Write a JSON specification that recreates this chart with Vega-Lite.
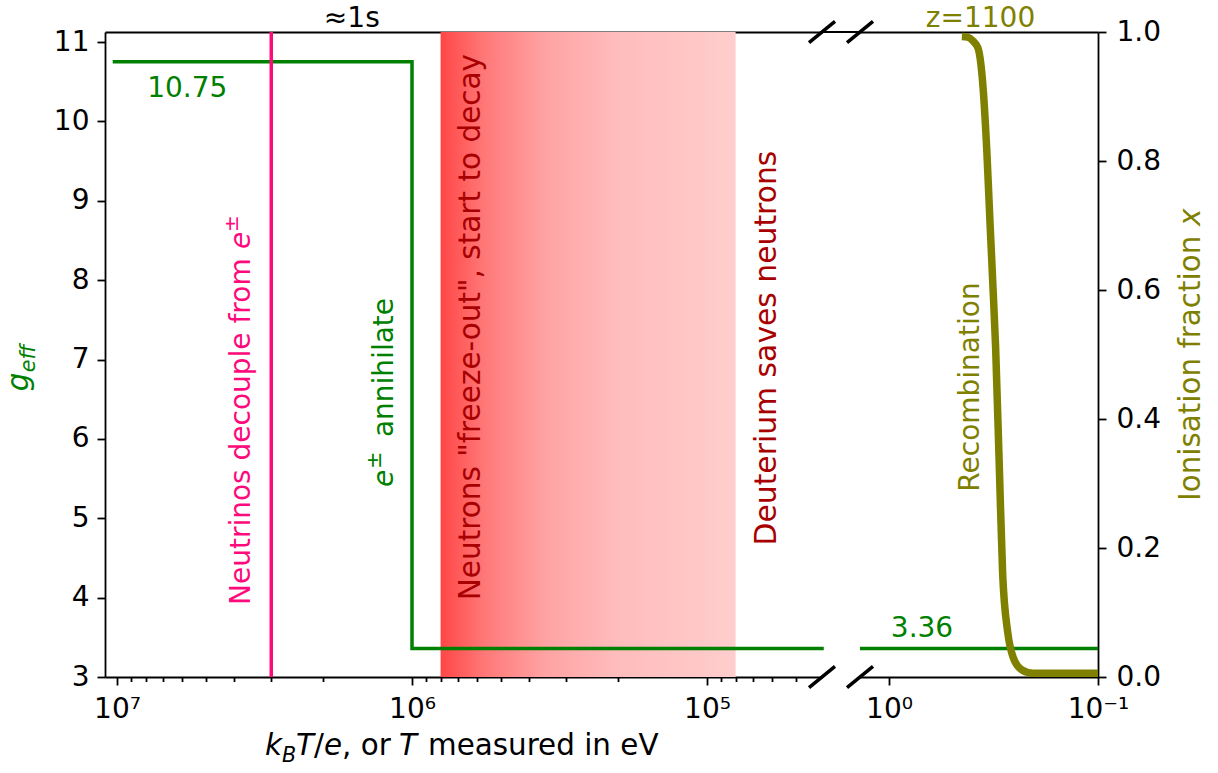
{
  "$schema": "https://vega.github.io/schema/vega-lite/v6.json",
  "background": "white",
  "padding": {"left": 4, "top": 4, "right": 5, "bottom": 5},
  "bounds": "flush",
  "spacing": 38,
  "config": {
    "view": {"stroke": null},
    "font": "DejaVu Sans",
    "axis": {
      "domainColor": "black", "domainWidth": 1.8, "tickColor": "black", "tickWidth": 1.8,
      "grid": false, "labelFont": "DejaVu Sans", "labelFontSize": 28, "labelColor": "black",
      "title": null, "labelFlush": false, "labelOverlap": false
    }
  },
  "datasets": {
    "ion": [
      {"T": 0.448, "x": 0.993}, {"T": 0.42, "x": 0.992}, {"T": 0.396, "x": 0.986},
      {"T": 0.375, "x": 0.975}, {"T": 0.355, "x": 0.915}, {"T": 0.340, "x": 0.812},
      {"T": 0.329, "x": 0.708}, {"T": 0.318, "x": 0.604}, {"T": 0.309, "x": 0.512},
      {"T": 0.296, "x": 0.316}, {"T": 0.286, "x": 0.161}, {"T": 0.270, "x": 0.068},
      {"T": 0.255, "x": 0.031}, {"T": 0.231, "x": 0.011}, {"T": 0.205, "x": 0.006},
      {"T": 0.1, "x": 0.006}
    ]
  },
  "hconcat": [
    {
      "width": 717, "height": 645,
      "resolve": {"axis": {"x": "independent", "y": "independent"}},
      "layer": [
        {
          "data": {"values": [{"T0": 800000, "T1": 80000}]},
          "mark": {"type": "rect", "color": {"gradient": "linear", "x1": 0, "x2": 1, "y1": 0, "y2": 0, "stops": [
            {"offset": 0, "color": "#ff4646"}, {"offset": 0.15, "color": "#ff7878"},
            {"offset": 0.35, "color": "#ffa2a2"}, {"offset": 0.6, "color": "#ffbcbc"},
            {"offset": 1, "color": "#ffcdcd"}]}},
          "encoding": {
            "x": {"field": "T0", "type": "quantitative",
                  "scale": {"type": "log", "domain": [40760, 10982000], "reverse": true, "nice": false},
                  "axis": {"orient": "top", "ticks": false, "labels": false, "domain": true}},
            "x2": {"field": "T1"}
          }
        },
        {
          "data": {"values": [
            {"T": 10200000, "g": 10.75, "i": 0}, {"T": 1000000, "g": 10.75, "i": 1},
            {"T": 1000000, "g": 3.36, "i": 2}, {"T": 40760, "g": 3.36, "i": 3}]},
          "mark": {"type": "line", "color": "#008000", "strokeWidth": 3.5, "strokeCap": "square"},
          "encoding": {
            "x": {"field": "T", "type": "quantitative",
                  "scale": {"type": "log", "domain": [40760, 10982000], "reverse": true, "nice": false},
                  "axis": {"orient": "bottom", "values": [10000000, 1000000, 100000], "tickSize": 8, "labelPadding": 10,
                           "labelExpr": "datum.value > 5000000 ? '10⁷' : datum.value > 500000 ? '10⁶' : '10⁵'"}},
            "y": {"field": "g", "type": "quantitative",
                  "scale": {"domain": [3, 11.126], "nice": false, "zero": false},
                  "axis": {"orient": "left", "values": [3, 4, 5, 6, 7, 8, 9, 10, 11], "tickSize": 8, "labelPadding": 8}},
            "order": {"field": "i"}
          }
        },
        {
          "data": {"values": [{"T": 3000000}]},
          "mark": {"type": "rule", "color": "#ff0a7c", "strokeWidth": 3.5},
          "encoding": {
            "x": {"field": "T", "type": "quantitative",
                  "axis": {"orient": "bottom", "values": [9000000, 8000000, 7000000, 6000000, 5000000, 4000000, 3000000, 2000000, 900000, 800000, 700000, 600000, 500000, 400000, 300000, 200000, 90000, 80000, 70000, 60000, 50000],
                           "labels": false, "domain": false, "tickSize": 4.5}}
          }
        },
        {
          "data": {"values": [{}]},
          "mark": {"type": "rule", "color": "black", "strokeWidth": 1.8},
          "encoding": {
            "x": {"datum": 40760, "type": "quantitative", "axis": null},
            "x2": {"datum": 30300},
            "y": {"datum": 11.126, "type": "quantitative", "axis": null}
          }
        },
        {
          "data": {"values": [{}]},
          "mark": {"type": "point", "shape": "M-1,0.82L1,-0.82", "size": 676, "filled": false, "stroke": "black", "strokeWidth": 3.5, "opacity": 1},
          "encoding": {"x": {"datum": 40760, "type": "quantitative", "axis": null}, "y": {"datum": 3, "type": "quantitative", "axis": null}}
        },
        {
          "data": {"values": [{}]},
          "mark": {"type": "point", "shape": "M-1,0.82L1,-0.82", "size": 676, "filled": false, "stroke": "black", "strokeWidth": 3.5, "opacity": 1},
          "encoding": {"x": {"datum": 40760, "type": "quantitative", "axis": null}, "y": {"datum": 11.126, "type": "quantitative", "axis": null}}
        },
        {
          "data": {"values": [{}]},
          "mark": {"type": "text", "text": "≈1s", "fontSize": 28, "color": "black", "align": "center", "baseline": "alphabetic"},
          "encoding": {"x": {"datum": 1600000, "type": "quantitative", "axis": null}, "y": {"datum": 11.186, "type": "quantitative", "axis": null}}
        },
        {
          "data": {"values": [{}]},
          "mark": {"type": "text", "text": "10.75", "fontSize": 28, "color": "#008000", "align": "left", "baseline": "alphabetic"},
          "encoding": {"x": {"datum": 7900000, "type": "quantitative", "axis": null}, "y": {"datum": 10.305, "type": "quantitative", "axis": null}}
        },
        {
          "data": {"values": [{}]},
          "mark": {"type": "text", "text": "Neutrinos decouple from", "fontSize": 28, "color": "#ff0a7c", "align": "left", "baseline": "alphabetic", "angle": 270},
          "encoding": {"x": {"datum": 3542000, "type": "quantitative", "axis": null}, "y": {"datum": 3.907, "type": "quantitative", "axis": null}}
        },
        {
          "data": {"values": [{}]},
          "mark": {"type": "text", "text": "e", "fontSize": 28, "fontStyle": "italic", "color": "#ff0a7c", "align": "left", "baseline": "alphabetic", "angle": 270, "dx": 356},
          "encoding": {"x": {"datum": 3542000, "type": "quantitative", "axis": null}, "y": {"datum": 3.907, "type": "quantitative", "axis": null}}
        },
        {
          "data": {"values": [{}]},
          "mark": {"type": "text", "text": "±", "fontSize": 20, "color": "#ff0a7c", "align": "left", "baseline": "alphabetic", "angle": 270, "dx": 373, "dy": -12},
          "encoding": {"x": {"datum": 3542000, "type": "quantitative", "axis": null}, "y": {"datum": 3.907, "type": "quantitative", "axis": null}}
        },
        {
          "data": {"values": [{}]},
          "mark": {"type": "text", "text": "e", "fontSize": 28, "fontStyle": "italic", "color": "#008000", "align": "left", "baseline": "alphabetic", "angle": 270},
          "encoding": {"x": {"datum": 1160000, "type": "quantitative", "axis": null}, "y": {"datum": 5.393, "type": "quantitative", "axis": null}}
        },
        {
          "data": {"values": [{}]},
          "mark": {"type": "text", "text": "±", "fontSize": 21, "color": "#008000", "align": "left", "baseline": "alphabetic", "angle": 270, "dx": 18, "dy": -12},
          "encoding": {"x": {"datum": 1160000, "type": "quantitative", "axis": null}, "y": {"datum": 5.393, "type": "quantitative", "axis": null}}
        },
        {
          "data": {"values": [{}]},
          "mark": {"type": "text", "text": "annihilate", "fontSize": 28, "color": "#008000", "align": "left", "baseline": "alphabetic", "angle": 270, "dx": 50},
          "encoding": {"x": {"datum": 1160000, "type": "quantitative", "axis": null}, "y": {"datum": 5.393, "type": "quantitative", "axis": null}}
        },
        {
          "data": {"values": [{}]},
          "mark": {"type": "text", "text": "Neutrons \"freeze-out\", start to decay", "fontSize": 29.5, "color": "#a80000", "align": "center", "baseline": "alphabetic", "angle": 270},
          "encoding": {"x": {"datum": 588400, "type": "quantitative", "axis": null}, "y": {"datum": 7.408, "type": "quantitative", "axis": null}}
        },
        {
          "data": {"values": [{}]},
          "mark": {"type": "text", "text": "Deuterium saves neutrons", "fontSize": 29.8, "color": "#a80000", "align": "center", "baseline": "alphabetic", "angle": 270},
          "encoding": {"x": {"datum": 58360, "type": "quantitative", "axis": null}, "y": {"datum": 7.144, "type": "quantitative", "axis": null}}
        },
        {
          "data": {"values": [{}]},
          "mark": {"type": "text", "text": "g", "fontSize": 29.4, "fontStyle": "italic", "color": "#008000", "align": "left", "baseline": "alphabetic", "angle": 270},
          "encoding": {"x": {"datum": 20030000, "type": "quantitative", "axis": null}, "y": {"datum": 6.6, "type": "quantitative", "axis": null}}
        },
        {
          "data": {"values": [{}]},
          "mark": {"type": "text", "text": "eff", "fontSize": 20.6, "fontStyle": "italic", "color": "#008000", "align": "left", "baseline": "alphabetic", "angle": 270, "dx": 19, "dy": 7},
          "encoding": {"x": {"datum": 20030000, "type": "quantitative", "axis": null}, "y": {"datum": 6.6, "type": "quantitative", "axis": null}}
        },
        {
          "data": {"values": [{}]},
          "mark": {"type": "text", "text": "k", "fontSize": 29.4, "fontStyle": "italic", "color": "black", "align": "left", "baseline": "alphabetic"},
          "encoding": {"x": {"datum": 3150000, "type": "quantitative", "axis": null}, "y": {"datum": 2.018, "type": "quantitative", "axis": null}}
        },
        {
          "data": {"values": [{}]},
          "mark": {"type": "text", "text": "B", "fontSize": 20.6, "fontStyle": "italic", "color": "black", "align": "left", "baseline": "alphabetic", "dx": 17, "dy": 7},
          "encoding": {"x": {"datum": 3150000, "type": "quantitative", "axis": null}, "y": {"datum": 2.018, "type": "quantitative", "axis": null}}
        },
        {
          "data": {"values": [{}]},
          "mark": {"type": "text", "text": "T", "fontSize": 29.4, "fontStyle": "italic", "color": "black", "align": "left", "baseline": "alphabetic", "dx": 31},
          "encoding": {"x": {"datum": 3150000, "type": "quantitative", "axis": null}, "y": {"datum": 2.018, "type": "quantitative", "axis": null}}
        },
        {
          "data": {"values": [{}]},
          "mark": {"type": "text", "text": "/", "fontSize": 29.4, "color": "black", "align": "left", "baseline": "alphabetic", "dx": 49},
          "encoding": {"x": {"datum": 3150000, "type": "quantitative", "axis": null}, "y": {"datum": 2.018, "type": "quantitative", "axis": null}}
        },
        {
          "data": {"values": [{}]},
          "mark": {"type": "text", "text": "e", "fontSize": 29.4, "fontStyle": "italic", "color": "black", "align": "left", "baseline": "alphabetic", "dx": 59},
          "encoding": {"x": {"datum": 3150000, "type": "quantitative", "axis": null}, "y": {"datum": 2.018, "type": "quantitative", "axis": null}}
        },
        {
          "data": {"values": [{}]},
          "mark": {"type": "text", "text": ", or", "fontSize": 29.4, "color": "black", "align": "left", "baseline": "alphabetic", "dx": 77},
          "encoding": {"x": {"datum": 3150000, "type": "quantitative", "axis": null}, "y": {"datum": 2.018, "type": "quantitative", "axis": null}}
        },
        {
          "data": {"values": [{}]},
          "mark": {"type": "text", "text": "T", "fontSize": 29.4, "fontStyle": "italic", "color": "black", "align": "left", "baseline": "alphabetic", "dx": 134},
          "encoding": {"x": {"datum": 3150000, "type": "quantitative", "axis": null}, "y": {"datum": 2.018, "type": "quantitative", "axis": null}}
        },
        {
          "data": {"values": [{}]},
          "mark": {"type": "text", "text": "measured in eV", "fontSize": 29.4, "color": "black", "align": "left", "baseline": "alphabetic", "dx": 163},
          "encoding": {"x": {"datum": 3150000, "type": "quantitative", "axis": null}, "y": {"datum": 2.018, "type": "quantitative", "axis": null}}
        }
      ]
    },
    {
      "width": 238, "height": 645,
      "resolve": {"scale": {"y": "independent"}, "axis": {"x": "independent", "y": "independent"}},
      "layer": [
        {
          "layer": [
            {
              "data": {"values": [{"T": 1.3765, "g": 3.36}, {"T": 0.1, "g": 3.36}]},
              "mark": {"type": "line", "color": "#008000", "strokeWidth": 3.5},
              "encoding": {
                "x": {"field": "T", "type": "quantitative",
                      "scale": {"type": "log", "domain": [0.1, 1.3765], "reverse": true, "nice": false},
                      "axis": {"orient": "bottom", "values": [0.9, 0.8, 0.7, 0.6, 0.5, 0.4, 0.3, 0.2], "labels": false, "domain": false, "tickSize": 4.5}},
                "y": {"field": "g", "type": "quantitative", "scale": {"domain": [3, 11.126], "nice": false, "zero": false}, "axis": null}
              }
            },
            {
              "data": {"values": [{}]},
              "mark": {"type": "text", "text": "3.36", "fontSize": 28, "color": "#008000", "align": "left", "baseline": "alphabetic"},
              "encoding": {"x": {"datum": 0.98, "type": "quantitative", "axis": null}, "y": {"datum": 3.504, "type": "quantitative", "axis": null}}
            }
          ]
        },
        {
          "resolve": {"axis": {"x": "independent", "y": "independent"}},
          "layer": [
            {
              "data": {"name": "ion"},
              "mark": {"type": "line", "color": "#808000", "opacity": 0},
              "encoding": {
                "x": {"field": "T", "type": "quantitative",
                      "scale": {"type": "log", "domain": [0.1, 1.3765], "reverse": true, "nice": false},
                      "axis": {"orient": "top", "ticks": false, "labels": false, "domain": true}},
                "y": {"field": "x", "type": "quantitative", "scale": {"domain": [0, 1], "nice": false}, "axis": null}
              }
            },
            {
              "data": {"name": "ion"},
              "mark": {"type": "line", "color": "#808000", "strokeWidth": 7.5, "interpolate": "monotone", "strokeCap": "butt"},
              "encoding": {
                "x": {"field": "T", "type": "quantitative",
                      "scale": {"type": "log", "domain": [0.1, 1.3765], "reverse": true, "nice": false},
                      "axis": {"orient": "bottom", "values": [1, 0.1], "tickSize": 8, "labelPadding": 10,
                               "labelExpr": "datum.value > 0.5 ? '10⁰' : '10⁻¹'"}},
                "y": {"field": "x", "type": "quantitative", "scale": {"domain": [0, 1], "nice": false},
                      "axis": {"orient": "right", "values": [0, 0.2, 0.4, 0.6, 0.8, 1], "format": ".1f", "tickSize": 8, "labelPadding": 10}},
                "order": {"field": "T", "sort": "descending"}
              }
            },
            {
              "data": {"values": [{}]},
              "mark": {"type": "point", "shape": "M-1,0.82L1,-0.82", "size": 676, "filled": false, "stroke": "black", "strokeWidth": 3.5, "opacity": 1},
              "encoding": {"x": {"datum": 1.3765, "type": "quantitative", "axis": null}, "y": {"datum": 0, "type": "quantitative", "axis": null}}
            },
            {
              "data": {"values": [{}]},
              "mark": {"type": "point", "shape": "M-1,0.82L1,-0.82", "size": 676, "filled": false, "stroke": "black", "strokeWidth": 3.5, "opacity": 1},
              "encoding": {"x": {"datum": 1.3765, "type": "quantitative", "axis": null}, "y": {"datum": 1, "type": "quantitative", "axis": null}}
            },
            {
              "data": {"values": [{}]},
              "mark": {"type": "text", "text": "z=1100", "fontSize": 28, "color": "#808000", "align": "center", "baseline": "alphabetic"},
              "encoding": {"x": {"datum": 0.365, "type": "quantitative", "axis": null}, "y": {"datum": 1.0078, "type": "quantitative", "axis": null}}
            },
            {
              "data": {"values": [{}]},
              "mark": {"type": "text", "text": "Recombination", "fontSize": 28, "color": "#808000", "align": "center", "baseline": "alphabetic", "angle": 270},
              "encoding": {"x": {"datum": 0.371, "type": "quantitative", "axis": null}, "y": {"datum": 0.4496, "type": "quantitative", "axis": null}}
            },
            {
              "data": {"values": [{}]},
              "mark": {"type": "text", "text": "Ionisation fraction", "fontSize": 29.4, "color": "#808000", "align": "left", "baseline": "alphabetic", "angle": 270},
              "encoding": {"x": {"datum": 0.0325, "type": "quantitative", "axis": null}, "y": {"datum": 0.2729, "type": "quantitative", "axis": null}}
            },
            {
              "data": {"values": [{}]},
              "mark": {"type": "text", "text": "x", "fontSize": 29.4, "fontStyle": "italic", "color": "#808000", "align": "left", "baseline": "alphabetic", "angle": 270, "dx": 275},
              "encoding": {"x": {"datum": 0.0325, "type": "quantitative", "axis": null}, "y": {"datum": 0.2729, "type": "quantitative", "axis": null}}
            }
          ]
        }
      ]
    }
  ]
}
